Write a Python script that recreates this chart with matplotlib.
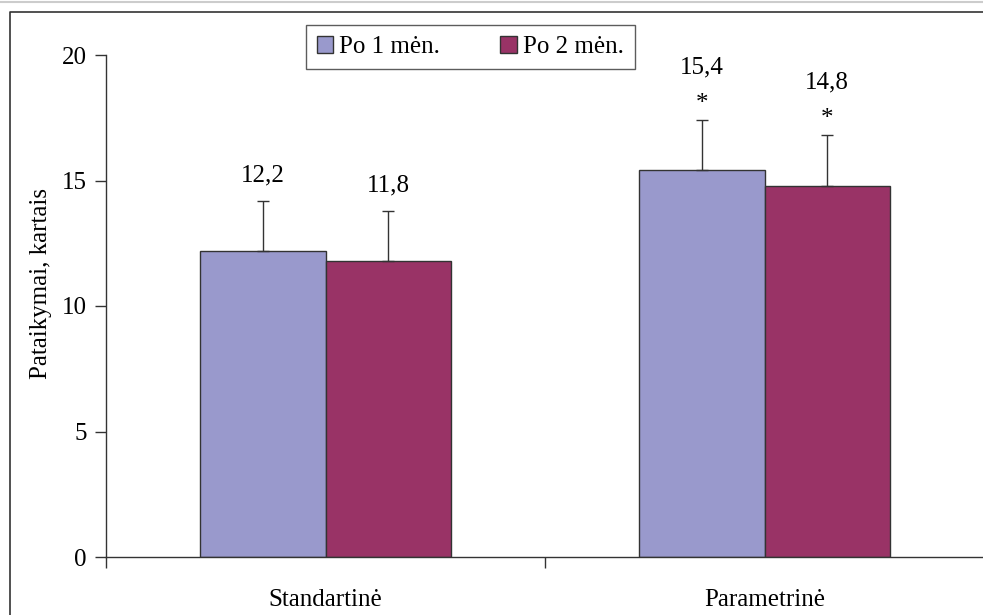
import numpy as np
import matplotlib.pyplot as plt
from matplotlib.lines import Line2D

# Data
categories = ['Standartinė', 'Parametrinė']
series_names = ['Po 1 mėn.', 'Po 2 mėn.']
month1 = [12.2, 15.4]
month2 = [11.8, 14.8]
err1 = [2.0, 2.0]
err2 = [2.0, 2.0]
labels1 = ['12,2', '15,4']
labels2 = ['11,8', '14,8']
significant = [False, True]

plt.rcParams['font.family'] = ['Liberation Serif', 'DejaVu Serif']
fs = 18

fig = plt.figure(figsize=(9.83, 6.15), dpi=100)
ax = fig.add_axes([106 / 983, 58 / 615, 878 / 983, 502 / 615])

x = np.arange(len(categories))
w = 0.285
colors = ['#9999cc', '#993366']

for vals, errs, labs, off, col in [(month1, err1, labels1, -w / 2, colors[0]),
                                   (month2, err2, labels2, w / 2, colors[1])]:
    ax.bar(x + off, vals, w, color=col, edgecolor='#333333', linewidth=1, zorder=2)
    ax.errorbar(x + off, vals, yerr=[np.zeros(len(vals)), errs], fmt='none',
                ecolor='#333333', elinewidth=1, capsize=4, capthick=1, zorder=3)
    for i in range(len(vals)):
        top = vals[i] + errs[i]
        if significant[i]:
            ax.text(x[i] + off, top + 0.65, '*', ha='center', va='center', fontsize=fs)
            ax.text(x[i] + off, top + 2.1, labs[i], ha='center', va='center', fontsize=fs)
        else:
            ax.text(x[i] + off, top + 1.0, labs[i], ha='center', va='center', fontsize=fs)

ax.set_xlim(-0.5, 1.5)
ax.set_ylim(0, 20)
ax.set_yticks([0, 5, 10, 15, 20])
ax.set_xticks(x)
ax.set_xticklabels(categories)
ax.set_xticks([-0.5, 0.5, 1.5], minor=True)
ax.tick_params(axis='x', which='major', length=0, pad=23, labelsize=fs)
ax.tick_params(axis='x', which='minor', length=8, width=1, color='#333333')
ax.tick_params(axis='y', length=8, width=1, color='#333333', labelsize=fs, pad=6)
ax.set_ylabel('Pataikymai, kartais', fontsize=fs, labelpad=7)
ax.yaxis.label.set_y(0.544)

for s in ['top', 'right']:
    ax.spines[s].set_visible(False)
for s in ['left', 'bottom']:
    ax.spines[s].set_color('#333333')
    ax.spines[s].set_linewidth(1)

handles = [plt.Rectangle((0, 0), 1, 1, facecolor=c, edgecolor='#333333', linewidth=1) for c in colors]
leg = ax.legend(handles, series_names, ncol=2, loc='center', bbox_to_anchor=(0.415, 1.016),
                fontsize=fs, frameon=True, fancybox=False, handlelength=0.65, handleheight=0.65,
                handletextpad=0.25, columnspacing=2.4, borderpad=0.45)
leg.get_frame().set_edgecolor('#333333')
leg.get_frame().set_linewidth(1)

# figure frame lines
fig.add_artist(Line2D([0, 1], [1 - 1.5 / 615, 1 - 1.5 / 615], color='#cccccc', linewidth=1.5))
fig.add_artist(Line2D([9.5 / 983, 9.5 / 983, 1], [0, 1 - 12 / 615, 1 - 12 / 615],
                      color='#333333', linewidth=1.2))

fig.savefig('out.png', dpi=100)
